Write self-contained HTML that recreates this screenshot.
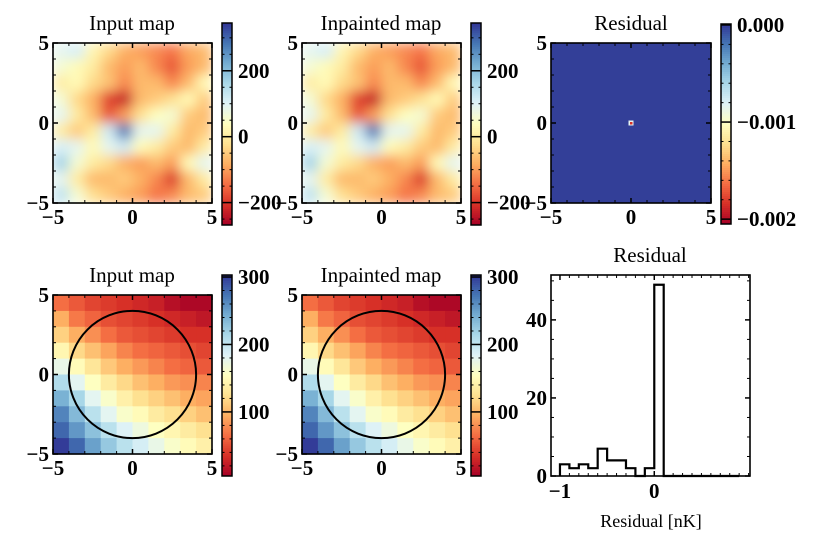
<!DOCTYPE html>
<html><head><meta charset="utf-8"><style>
body{margin:0;background:#fff;}
svg text{font-family:"Liberation Serif",serif;}
.tl{font-weight:bold;font-size:21px;}
.tt{font-size:21px;}
</style></head><body>
<svg id="fig" width="825" height="546" viewBox="0 0 825 546" xmlns="http://www.w3.org/2000/svg">
<defs>
<filter id="blur" x="0" y="0" width="1" height="1"><feGaussianBlur stdDeviation="6" edgeMode="duplicate"/></filter>
</defs>
</svg>
<script>
// noise field (top maps), rows top->bottom
const noiseGrid = [
[90,110,20,-30,-80,-100,-120,-140,-90,-70],
[60,30,0,-70,-100,-70,-120,-170,-100,-70],
[0,30,-30,-60,-120,-70,-70,-120,-70,30],
[60,-30,-80,-190,-230,-70,-50,-20,30,-50],
[90,0,-70,-170,-100,-20,40,60,-50,-70],
[0,-50,0,120,280,90,90,0,-70,-50],
[110,90,30,90,120,30,0,-50,-70,0],
[170,60,0,-30,-80,-100,-70,-100,30,90],
[90,0,-70,-70,-50,-80,-120,-200,-70,0],
[140,60,-20,-50,-80,-100,-140,-120,-70,-50]];
// coarse map (bottom maps)
const coarseGrid = [
[65,55,45,40,35,30,25,15,10,10],
[95,70,60,50,45,40,35,30,25,20],
[115,95,80,65,55,50,45,40,35,35],
[145,120,105,90,75,65,60,55,50,45],
[175,150,130,110,95,85,75,65,60,55],
[210,180,155,135,120,105,95,85,80,75],
[240,215,180,160,140,125,115,105,95,90],
[265,235,205,180,160,150,135,125,115,105],
[280,255,230,205,185,170,155,145,135,125],
[300,280,250,225,205,190,175,160,150,140]];
const histEdgeStart = -1.0, histBinWidth = 0.1;
const histCounts = [3,2,3,2,7,4,4,2,0,2,49,0,0,0,0,0,0,0,0];
const mapTicks = [-5,0,5];
const histXTicks = [-1,0];
const histYTicks = [0,20,40];
const cbTicksNoise = [-200,0,200];
const cbTicksCoarse = [100,200,300];
const cbTicksResid = [-0.002,-0.001,0.000];
const cbTickLabelsResid = ["\u22120.002","\u22120.001","0.000"];

const NS="http://www.w3.org/2000/svg";
const svg=document.getElementById('fig');
function el(tag,attrs,parent){const e=document.createElementNS(NS,tag);for(const k in attrs)e.setAttribute(k,attrs[k]);(parent||svg).appendChild(e);return e;}
const stops=[[0,[165,0,38]],[.1,[215,48,39]],[.2,[244,109,67]],[.3,[253,174,97]],[.4,[254,224,144]],[.5,[255,255,191]],[.6,[224,243,248]],[.7,[171,217,233]],[.8,[116,173,209]],[.9,[69,117,180]],[1,[49,54,149]]];
function cmap(t){t=Math.max(0,Math.min(1,t));for(let i=1;i<stops.length;i++){if(t<=stops[i][0]){const a=stops[i-1],b=stops[i];const f=(t-a[0])/(b[0]-a[0]);const c=a[1].map((v,k)=>Math.round(v+(b[1][k]-v)*f));return `rgb(${c[0]},${c[1]},${c[2]})`;}}return 'rgb(49,54,149)';}
function fmt(v){return v<0?'\u2212'+Math.abs(v):String(v);}

function mapAxes(x0,y0,w,h,name){
  const g=el('g',{});
  
  
  const sx=v=>x0+(v+5)/10*w, sy=v=>y0+h-(v+5)/10*h;
  return {g,sx,sy,x0,y0,w,h};
}
function frameTicks(ax,name){
  const {g,sx,sy,x0,y0,w,h}=ax;
  for(let v=-5;v<=5;v++){
    const major=mapTicks.includes(v), L=major?5:3;
    const x=sx(v), y=sy(v);
    el('line',{x1:x,y1:y0+h,x2:x,y2:y0+h-L,stroke:'#000','stroke-width':major?1.5:1},g);
    el('line',{x1:x,y1:y0,x2:x,y2:y0+L,stroke:'#000','stroke-width':major?1.5:1},g);
    el('line',{x1:x0,y1:y,x2:x0+L,y2:y,stroke:'#000','stroke-width':major?1.5:1},g);
    el('line',{x1:x0+w,y1:y,x2:x0+w-L,y2:y,stroke:'#000','stroke-width':major?1.5:1},g);
  }
  el('rect',{x:x0,y:y0,width:w,height:h,fill:'none',stroke:'#000','stroke-width':1.6},g);
  mapTicks.forEach(v=>{
    const t=el('text',{x:sx(v),y:y0+h+21,'text-anchor':'middle',class:'tl'},g);t.textContent=fmt(v);
    
    
    const u=el('text',{x:x0-4,y:sy(v)+7,'text-anchor':'end',class:'tl'},g);u.textContent=fmt(v);
    
    
  });
}
function title(x,y,txt,name){const t=el('text',{x:x,y:y,'text-anchor':'middle',class:'tt'});t.textContent=txt;
  
  }
function drawGrid(ax,grid,vmin,vmax,blur,name){
  const gg=el('g',blur?{filter:'url(#blur)'}:{},ax.g);
  
  
  const n=grid.length,m=grid[0].length,cw=ax.w/m,ch=ax.h/n;
  grid.forEach((row,r)=>row.forEach((v,c)=>{
    const rc=el('rect',{x:ax.x0+c*cw,y:ax.y0+r*ch,width:cw+0.6,height:ch+0.6,fill:cmap((v-vmin)/(vmax-vmin))},gg);
    
    
  }));
}
function colorbar(x,y0,y1,vmin,vmax,ticks,labels,minorStep,name){
  const g=el('g',{});
  
  
  const w=10,N=100;
  for(let i=0;i<N;i++){el('rect',{x:x,y:y0+(y1-y0)*i/N,width:w,height:(y1-y0)/N+0.5,fill:cmap(1-(i+0.5)/N)},g);}
  const sy=v=>y1-(v-vmin)/(vmax-vmin)*(y1-y0);
  const start=Math.ceil(vmin/minorStep);
  for(let k=start;k*minorStep<=vmax;k++){const v=k*minorStep,y=sy(v);
    el('line',{x1:x,y1:y,x2:x+2.5,y2:y,stroke:'#000','stroke-width':1},g);
    el('line',{x1:x+w,y1:y,x2:x+w-2.5,y2:y,stroke:'#000','stroke-width':1},g);}
  ticks.forEach((v,i)=>{const y=sy(v);
    el('line',{x1:x+w,y1:y,x2:x+w-5,y2:y,stroke:'#000','stroke-width':1.5},g);
    el('line',{x1:x,y1:y,x2:x+5,y2:y,stroke:'#000','stroke-width':1.5},g);
    const t=el('text',{x:x+w+6,y:y+7,class:'tl'},g);t.textContent=labels?labels[i]:fmt(v);
    
    });
  el('rect',{x:x,y:y0,width:w,height:y1-y0,fill:'none',stroke:'#000','stroke-width':1.5},g);
}

// top row
const A1=mapAxes(53,43,159,160,'input-map-top');drawGrid(A1,noiseGrid,-268,345,true,'input-map-top');frameTicks(A1,'input-map-top');
title(132,30,'Input map','title-input-map-top');
colorbar(222,23,225,-268,345,cbTicksNoise,null,50,'colorbar-input-top');
const A2=mapAxes(302,43,159,160,'inpainted-map-top');drawGrid(A2,noiseGrid,-268,345,true,'inpainted-map-top');frameTicks(A2,'inpainted-map-top');
title(381,30,'Inpainted map','title-inpainted-map-top');
colorbar(471,23,225,-268,345,cbTicksNoise,null,50,'colorbar-inpainted-top');
const A3=mapAxes(551,43,160,160,'residual-map');
el('rect',{x:551,y:43,width:160,height:160,fill:'rgb(51,63,152)'},A3.g);
el('rect',{x:A3.sx(0)-2.5,y:A3.sy(0)-2.5,width:5,height:5,fill:'#e8f4f0'},A3.g);
el('rect',{x:A3.sx(0)-1,y:A3.sy(0)-1,width:2.5,height:2.5,fill:'#d73027'},A3.g);
frameTicks(A3,'residual-map');
title(631,30,'Residual','title-residual-map');
colorbar(721,24,224,-0.00205,0.00001,cbTicksResid,cbTickLabelsResid,0.0002,'colorbar-residual');

// bottom row
const B1=mapAxes(53,295,159,159,'input-map-bottom');drawGrid(B1,coarseGrid,5,303,false,'input-map-bottom');
el('circle',{cx:B1.sx(0),cy:B1.sy(0),r:4/10*159,fill:'none',stroke:'#000','stroke-width':2},B1.g);
frameTicks(B1,'input-map-bottom');
title(132,282,'Input map','title-input-map-bottom');
colorbar(222,275,476,5,303,cbTicksCoarse,null,20,'colorbar-input-bottom');
const B2=mapAxes(302,295,159,159,'inpainted-map-bottom');drawGrid(B2,coarseGrid,5,303,false,'inpainted-map-bottom');
el('circle',{cx:B2.sx(0),cy:B2.sy(0),r:4/10*159,fill:'none',stroke:'#000','stroke-width':2},B2.g);
frameTicks(B2,'inpainted-map-bottom');
title(381,282,'Inpainted map','title-inpainted-map-bottom');
colorbar(471,275,476,5,303,cbTicksCoarse,null,20,'colorbar-inpainted-bottom');

// histogram
(function(){
  const x0=551,x1=750,y0=275,y1=476,xmin=-1.095,xmax=1.015,ymax=51.5;
  const sx=v=>x0+(v-xmin)/(xmax-xmin)*(x1-x0), sy=v=>y1-v/ymax*(y1-y0);
  const g=el('g',{});
  
  
  let d=`M${sx(histEdgeStart)},${sy(0)}`;
  histCounts.forEach((c,i)=>{const a=histEdgeStart+i*histBinWidth,b=a+histBinWidth;d+=` L${sx(a)},${sy(c)} L${sx(b)},${sy(c)}`;});
  d+=` L${sx(histEdgeStart+histCounts.length*histBinWidth)},${sy(0)}`;
  const p=el('path',{d:d,fill:'none',stroke:'#000','stroke-width':2.2,'stroke-linejoin':'miter'},g);
  
  
  for(let k=-10;k<=10;k++){const v=k*0.1;if(v<xmin||v>xmax)continue;const maj=histXTicks.some(t=>Math.abs(t-v)<1e-9);const L=maj?5:3;
    el('line',{x1:sx(v),y1:y1,x2:sx(v),y2:y1-L,stroke:'#000','stroke-width':maj?1.5:1},g);
    el('line',{x1:sx(v),y1:y0,x2:sx(v),y2:y0+L,stroke:'#000','stroke-width':maj?1.5:1},g);}
  for(let v=0;v<=ymax;v+=5){const maj=histYTicks.includes(v);const L=maj?5:3;
    el('line',{x1:x0,y1:sy(v),x2:x0+L,y2:sy(v),stroke:'#000','stroke-width':maj?1.5:1},g);
    el('line',{x1:x1,y1:sy(v),x2:x1-L,y2:sy(v),stroke:'#000','stroke-width':maj?1.5:1},g);}
  el('rect',{x:x0,y:y0,width:x1-x0,height:y1-y0,fill:'none',stroke:'#000','stroke-width':1.6},g);
  histXTicks.forEach(v=>{const t=el('text',{x:sx(v),y:y1+22,'text-anchor':'middle',class:'tl'},g);t.textContent=fmt(v);
    
    });
  histYTicks.forEach(v=>{const t=el('text',{x:x0-4,y:sy(v)+7,'text-anchor':'end',class:'tl'},g);t.textContent=fmt(v);
    
    });
  const xl=el('text',{x:651,y:527,'text-anchor':'middle','font-size':'18'},g);xl.textContent='Residual [nK]';
  
  
  title(650,262,'Residual','title-residual-histogram');
})();
</script>
</body></html>
